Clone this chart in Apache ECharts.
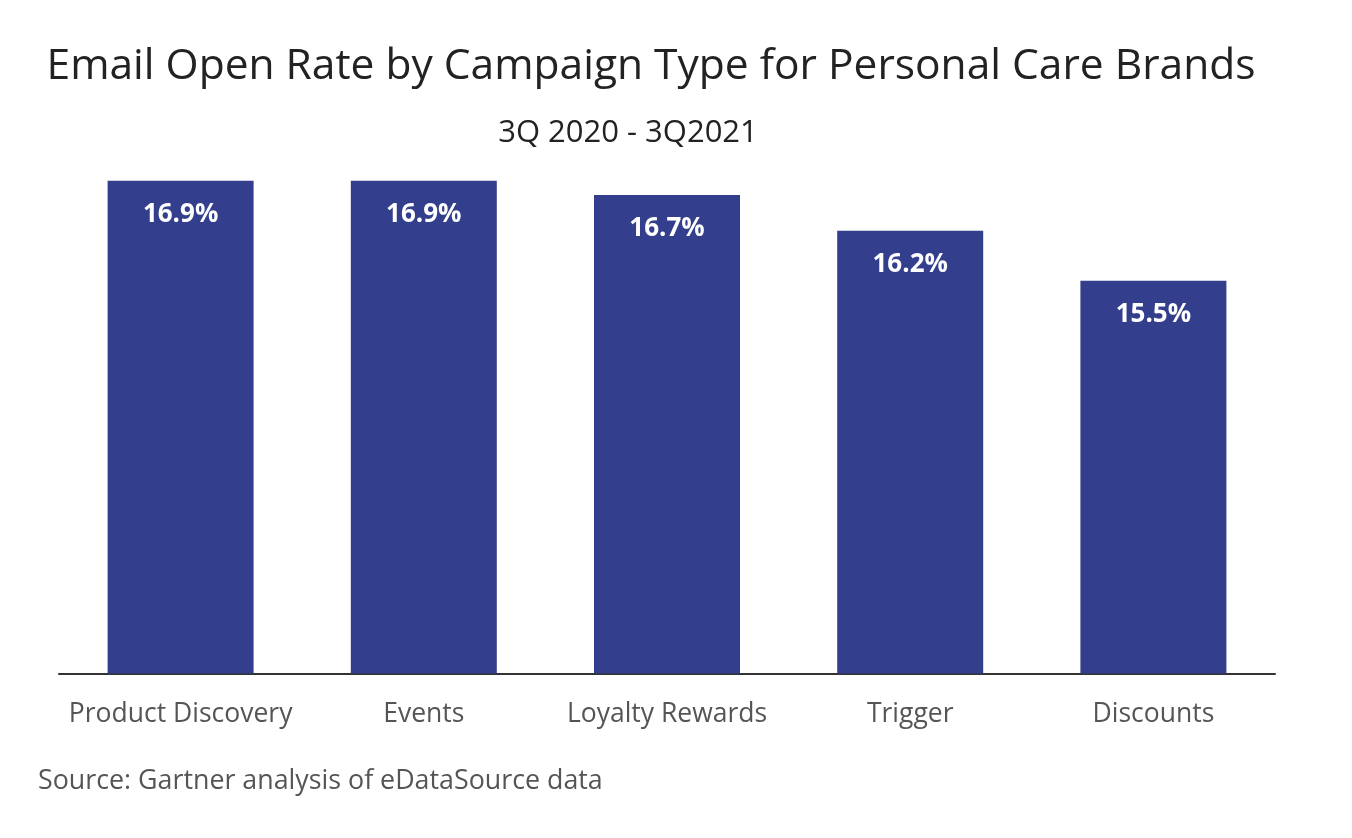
<!DOCTYPE html>
<html>
<head>
<meta charset="utf-8">
<script src="https://cdn.jsdelivr.net/npm/echarts@6/dist/echarts.min.js"></script>
<style>
html,body{margin:0;padding:0;background:#fff;}
#chart{width:1352px;height:838px;}
</style>
</head>
<body>
<div id="chart"></div>
<script>
const categories = ['Product Discovery', 'Events', 'Loyalty Rewards', 'Trigger', 'Discounts'];
const openRates = [16.9, 16.9, 16.7, 16.2, 15.5];
const titleText = 'Email Open Rate by Campaign Type for Personal Care Brands';
const subtitleText = '3Q 2020 - 3Q2021';
const sourceText = 'Source: Gartner analysis of eDataSource data';

const chart = echarts.init(document.getElementById('chart'));
chart.setOption({
  backgroundColor: '#ffffff',
  textStyle: { fontFamily: 'Open Sans' },
  title: [
    { text: titleText, left: 646, top: 40, textAlign: 'center',
      textStyle: { fontFamily: 'Open Sans', fontSize: 42.5, fontWeight: 'normal', color: '#222222' } },
    { text: subtitleText, left: 623, top: 113, textAlign: 'center',
      textStyle: { fontFamily: 'Open Sans', fontSize: 31, fontWeight: 'normal', color: '#222222' } },
    { text: sourceText, left: 33, top: 763,
      textStyle: { fontFamily: 'Open Sans', fontSize: 26.8, fontWeight: 'normal', color: '#555555' } }
  ],
  grid: { left: 59, width: 1216, top: 173.5, height: 500 },
  xAxis: {
    type: 'category',
    data: categories,
    axisLine: { lineStyle: { color: '#333333', width: 2 } },
    axisTick: { show: false },
    axisLabel: { fontFamily: 'Open Sans', fontSize: 26.5, color: '#555555', margin: 27, interval: 0 }
  },
  yAxis: {
    type: 'value', min: 10, max: 17,
    show: false,
    splitLine: { show: false }
  },
  series: [{
    type: 'bar',
    data: openRates,
    barWidth: 146,
    itemStyle: { color: '#333f8c' },
    label: {
      show: true, position: 'insideTop', distance: 21,
      formatter: p => p.value.toFixed(1) + '%',
      fontFamily: 'Open Sans', fontSize: 26, fontWeight: 'bold', color: '#ffffff'
    }
  }]
});
</script>
</body>
</html>
